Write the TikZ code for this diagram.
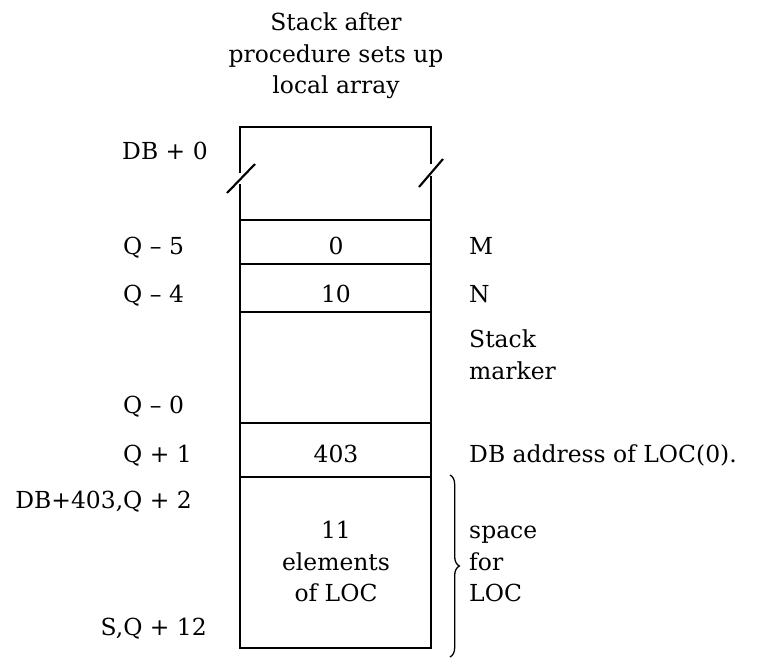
\documentclass[tikz,border=0pt]{standalone}
\usepackage{fontspec}
\setmainfont{DejaVu Serif}
\usetikzlibrary{decorations.pathreplacing}

\begin{document}
\begin{tikzpicture}[
  x=0.03cm, y=-0.03cm,
  font=\fontsize{20}{27}\selectfont,
  wall/.style={draw=black, line width=1.8pt},
  addr/.style={anchor=base west, inner sep=0pt},
  cell/.style={anchor=base, inner sep=0pt, align=center},
  block/.style={anchor=north, inner sep=0pt, align=center},
  note/.style={anchor=base west, inner sep=0pt, align=left},
  notes/.style={anchor=north west, inner sep=0pt, align=left},
]
\useasboundingbox (0,0) rectangle (759,658);

% Title
\node[block] (title) at (336,8) {\strut Stack after\\procedure sets up\\local array};

% Stack frame with breaks at the top
\draw[wall] (240,173) -- (240,127) -- (431,127) -- (431,164);
\draw[wall] (227,193) -- (255,164);
\draw[wall] (419,187) -- (443,159);
\draw[wall] (240,184) -- (240,648) -- (431,648) -- (431,176);
\draw[wall] (240,220) -- (431,220);
\draw[wall] (240,264) -- (431,264);
\draw[wall] (240,312) -- (431,312);
\draw[wall] (240,423) -- (431,423);
\draw[wall] (240,477) -- (431,477);

% Addresses, lined up on the Q
\node[addr] (db0) at (122,159) {DB + 0};
\node[addr] (q5) at (123,254) {Q \textendash{} 5};
\node[addr] (q4) at (123,302) {Q \textendash{} 4};
\node[addr] (q0) at (123,413) {Q \textendash{} 0};
\node[addr] (q1) at (123,462) {Q + 1};
\node[addr] (q2) at (123,508) {\llap{DB+403,}Q + 2};
\node[addr] (q12) at (123,635) {\llap{S,}Q + 12};

% Cell contents
\node[cell] (m) at (336,254) {0};
\node[cell] (n) at (336,302) {10};
\node[cell] (ptr) at (336,462) {403};
\node[block] (elems) at (336,516) {\strut 11\\elements\\of LOC};

% Notes
\node[note] (mname) at (469,254) {M};
\node[note] (nname) at (469,302) {N};
\node[notes] (marker) at (469,325) {\strut Stack\\marker};
\node[note] (ptrname) at (469,462) {DB address of LOC(0).};
\node[notes] (space) at (469,516) {\strut space\\for\\LOC};

% Brace round the array
\coordinate (btop) at (450,475);
\coordinate (bbot) at (450,657);
\draw[line width=1.1pt, decorate, decoration={brace, amplitude=8}] (btop) -- (bbot);

\end{tikzpicture}
\end{document}
